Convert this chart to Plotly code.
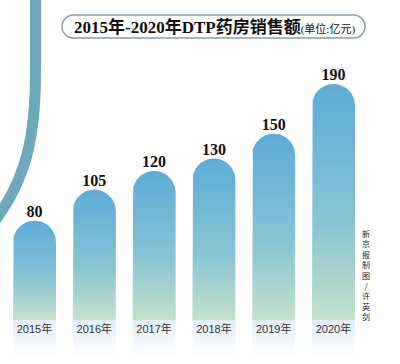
import numpy as np
import plotly.graph_objects as go

years = ["2015年", "2016年", "2017年", "2018年", "2019年", "2020年"]
values = [80, 105, 120, 130, 150, 190]
title_main = "2015年-2020年DTP药房销售额"
title_unit = "(单位:亿元)"
credit_chars = ["新", "京", "报", "制", "图", "/", "许", "英", "剑"]

W, H = 400, 364
x_range = [-0.577, 6.112]
y_range = [-35.4, 257.6]
px_x = W / (x_range[1] - x_range[0])
px_y = H / (y_range[1] - y_range[0])
half_w = 21.5 / px_x          # half bar width in x units
r_y = 21.5 / px_y             # cap radius in y units
fade_depth = 30               # label strip below bars (y units)

fig = go.Figure()

theta = np.linspace(np.pi, 0, 40)
for i, v in enumerate(values):
    cx = i
    arc_x = cx + half_w * np.cos(theta)
    arc_y = (v - r_y) + r_y * np.sin(theta)
    xs = np.concatenate([[cx - half_w], arc_x, [cx + half_w, cx - half_w]])
    ys = np.concatenate([[0], arc_y, [0, 0]])
    fig.add_trace(go.Scatter(
        x=xs, y=ys, mode="lines", fill="toself", line=dict(width=0),
        fillgradient=dict(type="vertical",
                          colorscale=[[0, "#c4e2cc"], [0.4, "#8ac4d3"], [1, "#5badd6"]]),
        hoverinfo="skip", showlegend=False))
    # light strip below each bar
    fig.add_trace(go.Scatter(
        x=[cx - half_w, cx + half_w, cx + half_w, cx - half_w, cx - half_w],
        y=[0, 0, -fade_depth, -fade_depth, 0],
        mode="lines", fill="toself", line=dict(width=0),
        fillgradient=dict(type="vertical",
                          colorscale=[[0, "rgba(255,255,255,1)"], [1, "#e3edf8"]]),
        hoverinfo="skip", showlegend=False))

# value labels
fig.add_trace(go.Scatter(
    x=list(range(len(values))), y=values, mode="text",
    text=[str(v) for v in values], textposition="top center",
    textfont=dict(family="Liberation Serif, DejaVu Serif", size=16, color="#111111"),
    texttemplate="<b>%{text}</b>", hoverinfo="skip", showlegend=False))

# year labels
fig.add_trace(go.Scatter(
    x=list(range(len(years))), y=[-8.2] * len(years), mode="text",
    text=years, textposition="middle center",
    textfont=dict(family="Liberation Sans, Noto Sans CJK SC", size=11, color="#333333"),
    hoverinfo="skip", showlegend=False))


def px2paper(x, y):
    return x / W, 1 - y / H


def path_from_px(cmds):
    out = []
    for c in cmds:
        if isinstance(c, str):
            out.append(c)
        else:
            px, py = px2paper(*c)
            out.append(f"{px:.5f},{py:.5f}")
    return " ".join(out)


# decorative arc on the left
deco = path_from_px(["M", (35.5, -10), "L", (35.5, 72), "C", (35.5, 135), (27, 178), (-6, 222)])
fig.add_shape(type="path", path=deco, xref="paper", yref="paper",
              line=dict(color="#6ea8bc", width=11), layer="below")

# title pill
x0, x1, y0, y1 = 62, 365, 15, 38
r = (y1 - y0) / 2
k = 0.5523 * r
pill = path_from_px([
    "M", (x0 + r, y0), "L", (x1 - r, y0),
    "C", (x1 - r + k, y0), (x1, y0 + r - k), (x1, y0 + r),
    "C", (x1, y0 + r + k), (x1 - r + k, y1), (x1 - r, y1),
    "L", (x0 + r, y1),
    "C", (x0 + r - k, y1), (x0, y0 + r + k), (x0, y0 + r),
    "C", (x0, y0 + r - k), (x0 + r - k, y0), (x0 + r, y0), "Z"])
fig.add_shape(type="path", path=pill, xref="paper", yref="paper",
              line=dict(color="#8a9ea6", width=1.5), fillcolor="white")

fig.add_annotation(
    x=214 / W, y=1 - 27 / H, xref="paper", yref="paper", showarrow=False,
    text=f"<b>{title_main}</b><span style='font-size:11px'>{title_unit}</span>",
    font=dict(family="Liberation Serif, Noto Sans CJK SC", size=17, color="#111111"),
    xanchor="center", yanchor="middle")

# vertical credit
fig.add_annotation(
    x=366 / W, y=1 - 275 / H, xref="paper", yref="paper",
    showarrow=False, text="<br>".join(credit_chars),
    font=dict(family="Noto Sans CJK SC", size=8, color="#222222"),
    xanchor="center", yanchor="middle")

fig.update_layout(
    width=W, height=H, margin=dict(l=0, r=0, t=0, b=0),
    paper_bgcolor="white", plot_bgcolor="white", showlegend=False,
    xaxis=dict(range=x_range, visible=False, fixedrange=True),
    yaxis=dict(range=y_range, visible=False, fixedrange=True),
)

fig.write_html("out.html", config={"displayModeBar": False},
               post_script="document.body.style.margin='0';")
